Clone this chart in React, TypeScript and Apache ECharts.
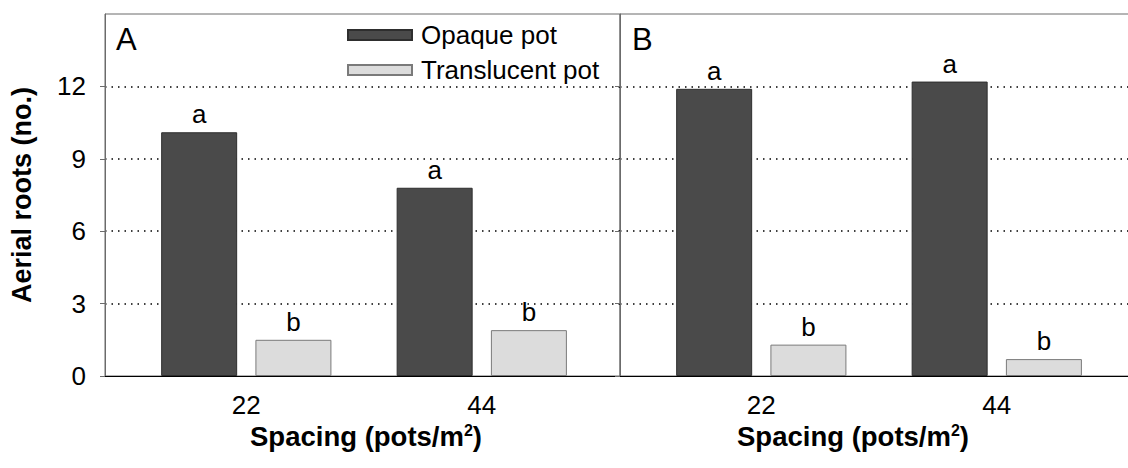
import React, { useEffect, useRef } from "react";
import * as echarts from "echarts";

const categories = ["22", "44"];
const seriesNames = ["Opaque pot", "Translucent pot"];
const panelAOpaque = [10.1, 7.8];
const panelATranslucent = [1.5, 1.9];
const panelBOpaque = [11.9, 12.2];
const panelBTranslucent = [1.3, 0.7];
const panelAOpaqueLetters = ["a", "a"];
const panelATranslucentLetters = ["b", "b"];
const panelBOpaqueLetters = ["a", "a"];
const panelBTranslucentLetters = ["b", "b"];
const yTicks = [0, 3, 6, 9, 12];
const panelTitles = ["A", "B"];
const yName = "Aerial roots (no.)";
const xName = "Spacing (pots/m{sup|2})";

const FONT = "'Liberation Sans', Arial, sans-serif";
const OPAQUE = { color: "#4a4a4a", borderColor: "#2e2e2e", borderWidth: 1 };
const TRANS = { color: "#dcdcdc", borderColor: "#7a7a7a", borderWidth: 1 };

export default function App() {
  const ref = useRef<HTMLDivElement>(null);
  useEffect(() => {
    if (!ref.current) return;
    const chart = echarts.init(ref.current, null, { renderer: "svg" });
    const toData = (vals: number[]) => categories.map((_, i) => [i + 1, vals[i]]);
    const xAxisBase = (gridIndex: number, pad: number[]) => ({
      type: "value",
      gridIndex,
      min: 0.4,
      max: 2.587,
      axisLine: { show: true, lineStyle: { color: "#000", width: 1 } },
      axisTick: { show: false },
      splitLine: { show: false },
      axisLabel: {
        customValues: categories.map((_, i) => i + 1),
        formatter: (v: number) => categories[Math.round(v) - 1] ?? "",
        fontSize: 26,
        color: "#000",
        fontFamily: FONT,
        margin: 16,
      },
      name: xName,
      nameLocation: "middle",
      nameGap: 38,
      nameTextStyle: {
        fontSize: 27.5,
        fontWeight: "bold",
        color: "#000",
        fontFamily: FONT,
        padding: pad,
        rich: {
          sup: { fontSize: 16, fontWeight: "bold", fontFamily: FONT, color: "#000", verticalAlign: "top", padding: [0, 0, 12, 0] },
        },
      },
    });
    const yAxisBase = (gridIndex: number, showLabels: boolean) => ({
      type: "value",
      gridIndex,
      min: 0,
      max: 15,
      interval: 3,
      axisLine: { show: true, lineStyle: { color: "#6b6b6b", width: 1 } },
      axisTick: { show: true, customValues: yTicks, length: 5, lineStyle: { color: "#6b6b6b" } },
      axisLabel: {
        show: showLabels,
        customValues: yTicks,
        fontSize: 26,
        color: "#000",
        fontFamily: FONT,
        margin: 19,
      },
      splitLine: {
        show: true,
        showMinLine: false,
        lineStyle: { color: "#000", type: [1.5, 5], width: 1.5 },
      },
      name: showLabels ? yName : "",
      nameLocation: "middle",
      nameGap: 70,
      nameTextStyle: { fontSize: 27, fontWeight: "bold", color: "#000", fontFamily: FONT },
    });
    const barSeries = (name: string, vals: number[], letters: string[], idx: number, style: any) => ({
      type: "bar",
      name,
      xAxisIndex: idx,
      yAxisIndex: idx,
      data: toData(vals),
      barWidth: 76,
      barGap: "24%",
      itemStyle: style,
      label: {
        show: true,
        position: "top",
        distance: 5,
        formatter: (p: any) => letters[p.dataIndex],
        fontSize: 26,
        color: "#000",
        fontFamily: FONT,
      },
    });
    chart.setOption({
      animation: false,
      backgroundColor: "#fff",
      textStyle: { fontFamily: FONT },
      grid: [
        { left: 105, top: 14, width: 515, height: 362, show: true, borderColor: "#6b6b6b", borderWidth: 1, containLabel: false, outerBoundsMode: "none" },
        { left: 620, top: 14, width: 515, height: 362, show: true, borderColor: "#6b6b6b", borderWidth: 1, containLabel: false, outerBoundsMode: "none" },
      ],
      legend: {
        data: seriesNames,
        orient: "vertical",
        left: 342,
        top: 17,
        itemWidth: 64,
        itemHeight: 10,
        itemGap: 9,
        icon: "rect",
        textStyle: { fontSize: 26, color: "#000", fontFamily: FONT, padding: [0, 0, 0, 4] },
      },
      xAxis: [xAxisBase(0, [0, 0, 0, 7]), xAxisBase(1, [0, 49, 0, 0])],
      yAxis: [yAxisBase(0, true), yAxisBase(1, false)],
      series: [
        barSeries(seriesNames[0], panelAOpaque, panelAOpaqueLetters, 0, OPAQUE),
        barSeries(seriesNames[1], panelATranslucent, panelATranslucentLetters, 0, TRANS),
        barSeries(seriesNames[0], panelBOpaque, panelBOpaqueLetters, 1, OPAQUE),
        barSeries(seriesNames[1], panelBTranslucent, panelBTranslucentLetters, 1, TRANS),
      ],
      graphic: [
        { type: "text", left: 116, top: 24, style: { text: panelTitles[0], fontSize: 31, fill: "#000", fontFamily: FONT } },
        { type: "text", left: 632, top: 24, style: { text: panelTitles[1], fontSize: 31, fill: "#000", fontFamily: FONT } },
      ],
    });
    return () => chart.dispose();
  }, []);
  return (
    <div
      ref={ref}
      style={{ position: "absolute", left: 0, top: 0, width: 1128, height: 468, overflow: "hidden" }}
    />
  );
}
